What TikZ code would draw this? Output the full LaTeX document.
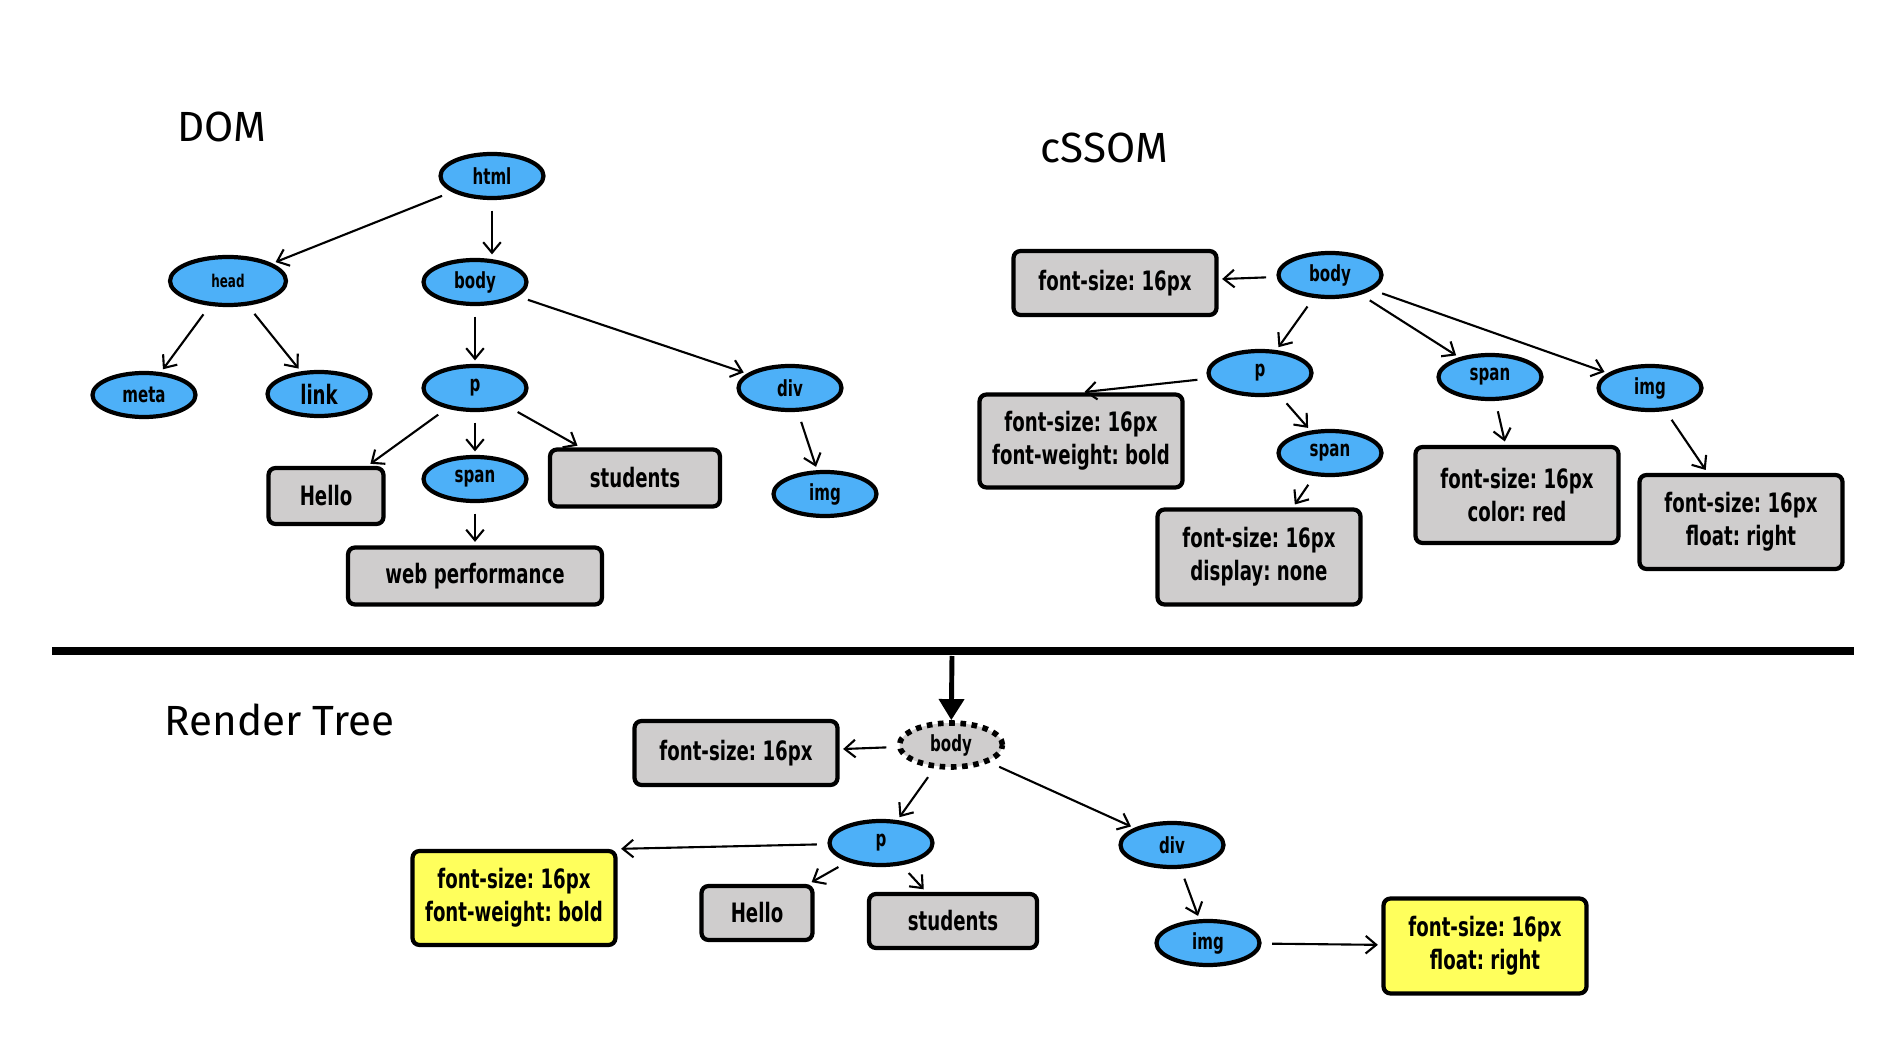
\documentclass[tikz,border=0pt]{standalone}
\usepackage{fontspec}
\newfontfamily\tagfont{DejaVu Sans}[FakeStretch=0.68]
\newfontfamily\headfont{Fira Sans}
\usetikzlibrary{arrows.meta,shapes.geometric}
\definecolor{tagblue}{RGB}{77,176,248}
\definecolor{propgray}{RGB}{207,205,205}
\definecolor{propyellow}{RGB}{255,255,92}
\begin{document}
\begin{tikzpicture}[x=0.1mm,y=-0.1mm,>={Straight Barb[length=3pt,width=5pt]},
  tag/.style={ellipse,draw,line width=1.2pt,fill=tagblue,inner sep=0pt,
    minimum width=10.3mm,minimum height=4.4mm,font=\tagfont\bfseries\fontsize{6.3}{7}\selectfont},
  prop/.style={draw,line width=1.2pt,rounded corners=2pt,fill=propgray,inner sep=0pt,align=center,
    minimum width=20.3mm,minimum height=6.4mm,font=\tagfont\bfseries\fontsize{7.6}{9.4}\selectfont},
  arr/.style={->,line width=0.6pt,shorten <=3pt,shorten >=1pt},
  heading/.style={anchor=west,inner sep=0pt,font=\headfont\fontsize{12}{14}\selectfont}]
\useasboundingbox (0,0) rectangle (1900,1056);

\node[heading] (domtitle) at (177,127) {DOM};
\node[heading] (cssomtitle) at (1040,148) {cSSOM};
\node[heading] (rendertitle) at (164,720) {Render Tree};

% DOM
\node[tag] (html) at (492,176) {html};
\node[tag,minimum width=11.6mm,minimum height=4.8mm,font=\tagfont\bfseries\fontsize{5}{6}\selectfont] (head) at (228,281) {head};
\node[tag] (dbody) at (475,282) {body};
\node[tag] (meta) at (144,395) {meta};
\node[tag,font=\tagfont\bfseries\fontsize{7.6}{8}\selectfont] (link) at (319,394) {link};
\node[tag] (dp) at (475,388) {p};
\node[tag] (ddiv) at (790,388) {div};
\node[prop,minimum width=11.5mm,minimum height=5.6mm] (dhello) at (326,496) {Hello};
\node[tag] (dspan) at (475,479) {span};
\node[prop,minimum width=17mm,minimum height=5.7mm] (dstudents) at (635,478) {students};
\node[tag] (dimg) at (825,494) {img};
\node[prop,minimum width=25.4mm,minimum height=5.7mm] (dweb) at (475,576) {web performance};

\draw[arr] (html) -- (head);
\draw[arr] (html.south) -- (html.south |- dbody.north);
\draw[arr] (head) -- (meta);
\draw[arr] (head) -- (link);
\draw[arr] (dbody) -- (dp);
\draw[arr] (dbody) -- (ddiv);
\draw[arr] (dp) -- (dhello);
\draw[arr] (dp) -- (dspan);
\draw[arr] (dp) -- (dstudents);
\draw[arr] (ddiv) -- (dimg);
\draw[arr] (dspan) -- (dweb);

% CSSOM
\node[tag] (cbody) at (1330,275) {body};
\node[prop] (cbodyprop) at (1115,283) {font-size:~16px};
\node[tag] (cp) at (1260,373) {p};
\node[tag] (cspan) at (1490,377) {span};
\node[tag] (cimg) at (1650,388) {img};
\node[prop,minimum height=9.3mm] (cpprop) at (1081,441) {font-size:~16px\\font-weight:~bold};
\node[tag] (cspanb) at (1330,453) {span};
\node[prop,minimum height=9.5mm] (cspanbprop) at (1259,557) {font-size:~16px\\display:~none};
\node[prop,minimum height=9.6mm] (cspanprop) at (1517,495) {font-size:~16px\\color:~red};
\node[prop,minimum height=9.4mm] (cimgprop) at (1741,522) {font-size:~16px\\float:~right};

\draw[arr] (cbody) -- (cbodyprop);
\draw[arr] (cbody) -- (cp);
\draw[arr] (cbody) -- (cspan);
\draw[arr] (cbody) -- (cimg);
\draw[arr] (cp) -- (cpprop.north);
\draw[arr] (cp) -- (cspanb);
\draw[arr] (cspanb) -- (cspanbprop);
\draw[arr] (cspan) -- (cspanprop);
\draw[arr] (cimg) -- (cimgprop);

\draw[line width=2pt] (52,651) -- (1854,651);
\coordinate (split) at (952,656);

% Render Tree
\node[tag,fill=propgray,line width=1.6pt,dash pattern=on 1.6pt off 1.6pt] (rbody) at (951,745) {body};
\node[prop] (rbodyprop) at (736,753) {font-size:~16px};
\node[tag] (rp) at (881,843) {p};
\node[tag] (rdiv) at (1172,845) {div};
\node[prop,fill=propyellow,minimum height=9.4mm] (rpprop) at (514,898) {font-size:~16px\\font-weight:~bold};
\node[prop,minimum width=11.1mm,minimum height=5.4mm] (rhello) at (757,913) {Hello};
\node[prop,minimum width=16.8mm,minimum height=5.4mm] (rstudents) at (953,921) {students};
\node[tag] (rimg) at (1208,943) {img};
\node[prop,fill=propyellow,minimum height=9.5mm] (rimgprop) at (1485,946) {font-size:~16px\\float:~right};

\draw[-{Triangle[length=6pt,width=7pt]},line width=1.4pt] (split) -- (rbody);
\draw[arr] (rbody) -- (rbodyprop);
\draw[arr] (rbody) -- (rp);
\draw[arr] (rbody) -- (rdiv);
\draw[arr] (rp) -- (rpprop.north east);
\draw[arr] (rp) -- (rhello);
\draw[arr] (rp) -- (rstudents);
\draw[arr] (rdiv) -- (rimg);
\draw[arr] (rimg) -- (rimgprop);
\end{tikzpicture}
\end{document}
